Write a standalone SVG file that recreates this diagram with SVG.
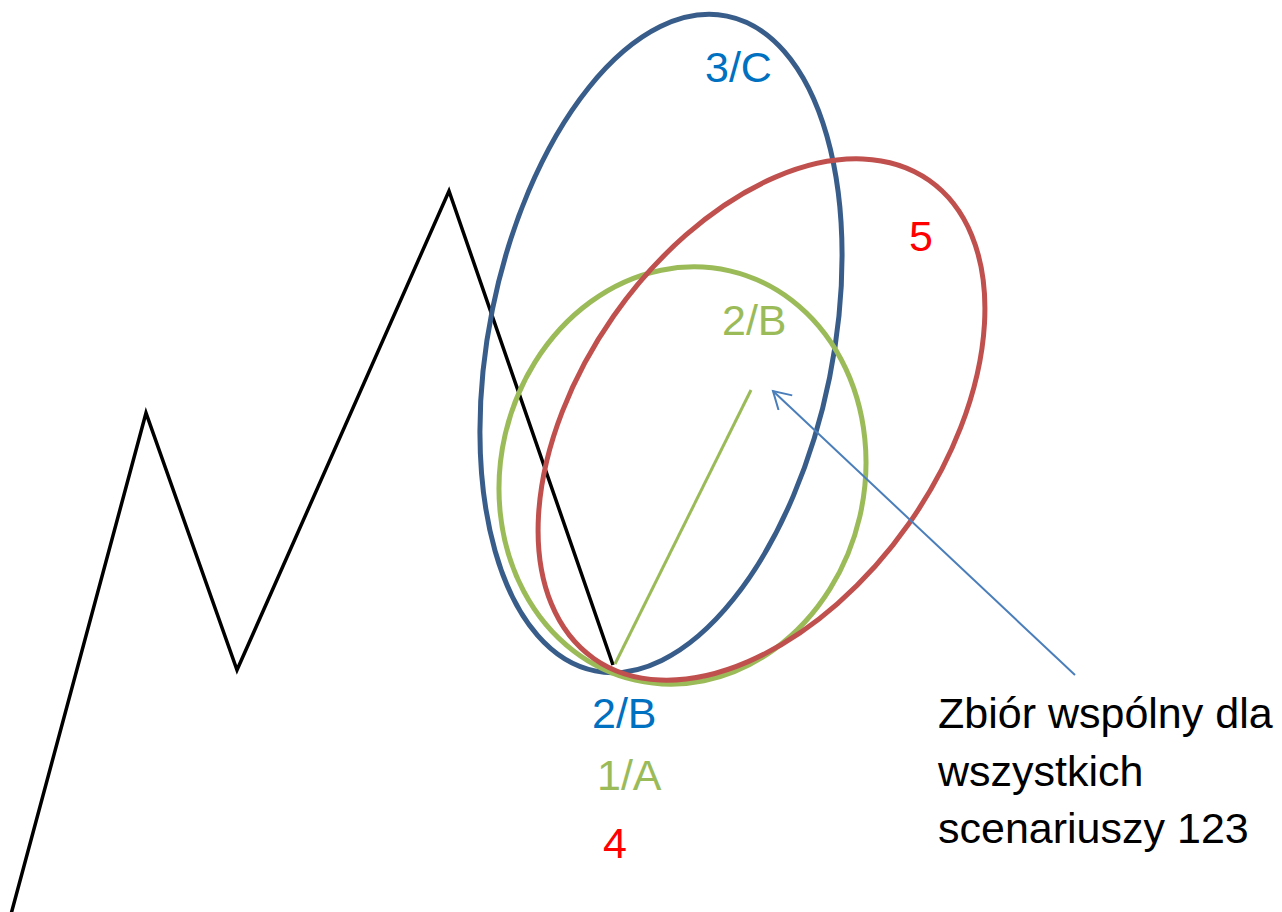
<svg xmlns="http://www.w3.org/2000/svg" width="1282" height="912" viewBox="0 0 1282 912">
<defs>
<style>
.lbl{font-family:"Liberation Sans",Arial,sans-serif;font-size:43px}
.ell{fill:none;stroke-width:5}
</style>
<marker id="openArrow" markerWidth="24" markerHeight="24" refX="20" refY="11" orient="auto" markerUnits="userSpaceOnUse" viewBox="0 0 24 24">
<path d="M3,1 L20,11 L3,21" fill="none" stroke="#4A7EBB" stroke-width="2"/>
</marker>
</defs>
<rect width="1282" height="912" fill="#ffffff"/>
<g id="zigzag">
<polyline points="10,918 146,413 237,670 449,191 613,665" fill="none" stroke="#000000" stroke-width="3.5" stroke-linejoin="miter"/>
</g>
<g id="ellipse-blue">
<ellipse class="ell" cx="661" cy="343.5" rx="172" ry="334" transform="rotate(11.4 661 343.5)" stroke="#385D8A"/>
</g>
<g id="ellipse-green">
<ellipse class="ell" cx="682.5" cy="475.5" rx="182" ry="210" transform="rotate(13 682.5 475.5)" stroke="#9BBB59"/>
</g>
<g id="ellipse-red">
<ellipse class="ell" cx="761.5" cy="419.5" rx="180.5" ry="292" transform="rotate(35 761.5 419.5)" stroke="#C0504D"/>
</g>
<g id="connectors">
<line x1="615" y1="664" x2="751" y2="390" stroke="#9BBB59" stroke-width="3"/>
<line x1="1075" y1="675" x2="773" y2="391" stroke="#4A7EBB" stroke-width="2" marker-end="url(#openArrow)"/>
</g>
<g id="labels">
<text class="lbl" x="705" y="82" fill="#0070C0">3/C</text>
<text class="lbl" x="909" y="251" fill="#FF0000">5</text>
<text class="lbl" x="722" y="335" fill="#9BBB59">2/B</text>
<text class="lbl" x="592" y="728" fill="#0070C0">2/B</text>
<text class="lbl" x="597" y="790" fill="#9BBB59">1/A</text>
<text class="lbl" x="603" y="858" fill="#FF0000">4</text>
</g>
<g id="note">
<text class="lbl" x="938" y="728" fill="#000000">Zbiór wspólny dla</text>
<text class="lbl" x="938" y="786" fill="#000000">wszystkich</text>
<text class="lbl" x="938" y="843" fill="#000000">scenariuszy 123</text>
</g>
</svg>
